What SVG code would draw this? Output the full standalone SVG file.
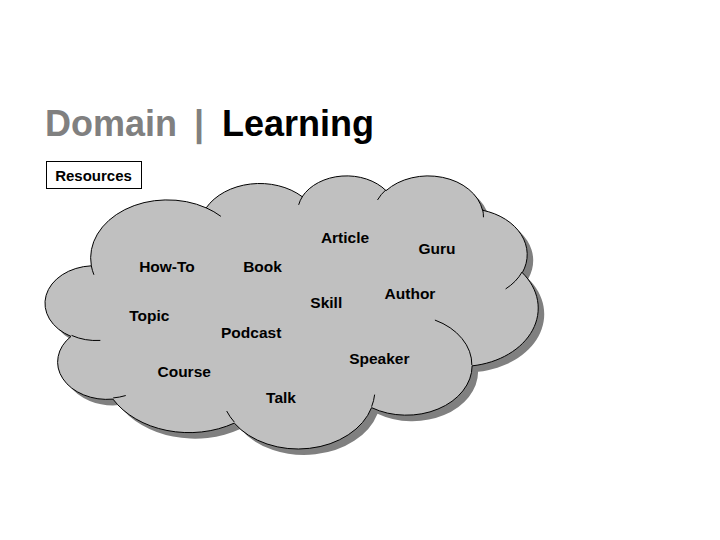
<svg xmlns="http://www.w3.org/2000/svg" width="720" height="540" viewBox="0 0 720 540">
  <defs>
    <style>
      .title { font-family: "Liberation Sans", Arial, sans-serif; font-weight: bold; font-size: 36px; }
      .lbl { font-family: "Liberation Sans", Arial, sans-serif; font-weight: bold; font-size: 15.5px; fill: #000; text-anchor: middle; }
      .res { font-family: "Liberation Sans", Arial, sans-serif; font-weight: bold; font-size: 15px; fill: #000; text-anchor: middle; }
      .inner { fill: none; stroke: #000; stroke-width: 1; }
    </style>
    <path id="cloudShape" d="M 91.33 265.81
      A 76.75 58.08 0 0 1 206.18 207.87
      A 60.61 45.92 0 0 1 302.23 196.68
      A 49.61 37.57 0 0 1 386.07 190.67
      A 55.20 41.68 0 0 1 482.52 210.23
      A 60.61 45.96 0 0 1 522.30 272.69
      A 77.00 58.26 0 0 1 472.12 365.85
      A 65.75 49.71 0 0 1 371.55 407.63
      A 76.74 58.23 0 0 1 234.30 423.10
      A 87.74 66.63 0 0 1 112.95 399.11
      A 49.55 37.40 0 0 1 71.00 336.41
      A 49.38 37.57 0 0 1 91.33 265.81 Z"/>
  </defs>
  <rect width="720" height="540" fill="#ffffff"/>

  <g id="title">
    <text class="title" x="45" y="136" fill="#808080">Domain</text>
    <text class="title" x="194" y="136" fill="#808080">|</text>
    <text class="title" x="222" y="136" fill="#000000">Learning</text>
  </g>

  <g id="resources">
    <rect x="46.5" y="161.5" width="95" height="27" fill="#ffffff" stroke="#000" stroke-width="1"/>
    <text class="res" x="93.5" y="181">Resources</text>
  </g>

  <g id="cloud">
    <use href="#cloudShape" transform="translate(6,6)" fill="#808080"/>
    <use href="#cloudShape" fill="#c0c0c0" stroke="#000" stroke-width="1"/>
    <path class="inner" d="M 100.34 340.42 A 49.38 37.57 0 0 1 71.55 335.39
      M 125.74 395.54 A 49.55 37.40 0 0 1 113.15 397.95
      M 234.28 422.03 A 76.74 58.23 0 0 1 226.70 411.04
      M 374.64 394.61 A 76.74 58.23 0 0 1 371.61 406.67
      M 434.90 320.06 A 65.75 49.71 0 0 1 471.85 365.15
      M 522.06 272.03 A 60.61 45.96 0 0 1 505.61 288.94
      M 482.58 209.29 A 55.20 41.68 0 0 1 483.45 217.27
      M 377.49 199.97 A 55.20 41.68 0 0 1 385.92 189.79
      M 298.65 204.83 A 49.61 37.57 0 0 1 302.73 196.04
      M 206.12 207.81 A 76.75 58.08 0 0 1 220.89 216.33
      M 93.91 274.78 A 76.75 58.08 0 0 1 91.33 265.81"/>
  </g>

  <g id="labels">
    <g id="how-to"><text class="lbl" x="167" y="272">How-To</text></g>
    <g id="book"><text class="lbl" x="262.5" y="272">Book</text></g>
    <g id="article"><text class="lbl" x="345" y="243">Article</text></g>
    <g id="guru"><text class="lbl" x="437" y="254">Guru</text></g>
    <g id="skill"><text class="lbl" x="326.3" y="308">Skill</text></g>
    <g id="author"><text class="lbl" x="410" y="299">Author</text></g>
    <g id="topic"><text class="lbl" x="149.3" y="321">Topic</text></g>
    <g id="podcast"><text class="lbl" x="251.2" y="338">Podcast</text></g>
    <g id="speaker"><text class="lbl" x="379.3" y="364">Speaker</text></g>
    <g id="course"><text class="lbl" x="184.2" y="377">Course</text></g>
    <g id="talk"><text class="lbl" x="281" y="403">Talk</text></g>
  </g>
</svg>
